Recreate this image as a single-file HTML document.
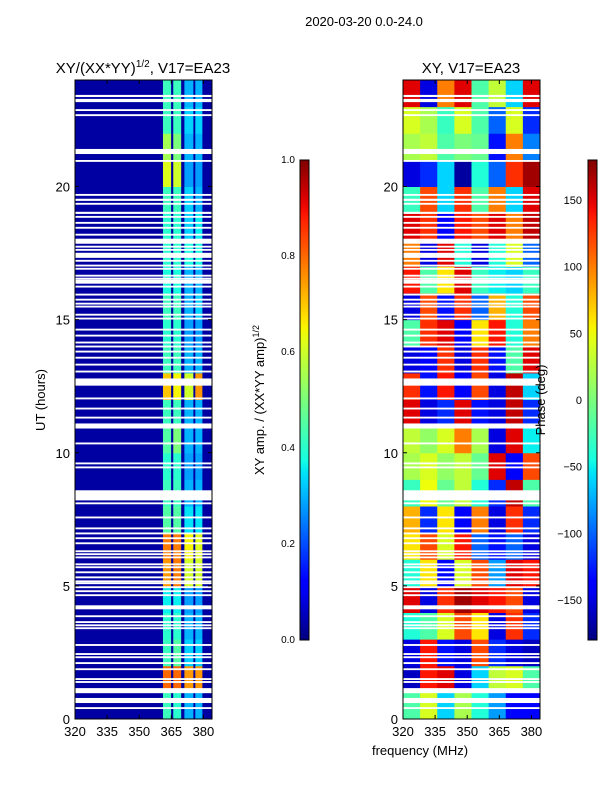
<!DOCTYPE html>
<html><head><meta charset="utf-8"><style>
html,body{margin:0;padding:0;background:#fff;}
svg{display:block;font-family:"Liberation Sans","DejaVu Sans",sans-serif;}
</style></head><body>
<svg id="fig" width="600" height="800" viewBox="0 0 600 800" xmlns="http://www.w3.org/2000/svg">
<defs>
<linearGradient id="jet" x1="0" y1="1" x2="0" y2="0"></linearGradient>
</defs>
<text x="364" y="26" font-size="13" text-anchor="middle">2020-03-20 0.0-24.0</text>
<g id="left"></g>
<g id="right"></g>
<g id="axes"></g>
<text x="143" y="73" font-size="15" text-anchor="middle">XY/(XX*YY)<tspan font-size="10" dy="-6">1/2</tspan><tspan dy="6">, V17=EA23</tspan></text>
<text x="471" y="73" font-size="15" text-anchor="middle">XY, V17=EA23</text>
<text transform="translate(45,400) rotate(-90)" font-size="13" text-anchor="middle">UT (hours)</text>
<text transform="translate(264,400) rotate(-90)" font-size="13" text-anchor="middle">XY amp. / (XX*YY amp)<tspan font-size="9" dy="-5">1/2</tspan></text>
<text transform="translate(545,400) rotate(-90)" font-size="13" text-anchor="middle">Phase (deg)</text>
<text x="420" y="755" font-size="13" text-anchor="middle">frequency (MHz)</text>
<rect x="300" y="160" width="9" height="480" fill="url(#jet)" stroke="#000" stroke-width="1"/>
<rect x="588" y="160" width="9" height="480" fill="url(#jet)" stroke="#000" stroke-width="1"/>
</svg>
<script>
const freqTicks=[320,335,350,365,380];
const hourTicks=[0,5,10,15,20];
const ampTicks=[0.0,0.2,0.4,0.6,0.8,1.0];
const phaseTicks=[-150,-100,-50,0,50,100,150];
const ampBlocks=[[361.1,364.9],[365.9,369.6],[371.1,375.3],[376.2,379.5]];
const ampBackground=0.03;
const ampBlock1=[0.42,0.8,0.42,0.4,0.36,0.75,0.78,0.45,0.42,0.4,0.45,0.42,0.7,0.42,0.4,0.42,0.38,0.4,0.4,0.42,0.62,0.55,0.42,0.42];
const ampBlock2=[0.4,0.8,0.45,0.4,0.36,0.78,0.78,0.45,0.42,0.4,0.5,0.42,0.65,0.42,0.4,0.42,0.38,0.4,0.4,0.42,0.6,0.5,0.42,0.42];
const ampBlock3=[0.3,0.75,0.33,0.3,0.28,0.6,0.65,0.35,0.3,0.28,0.3,0.3,0.6,0.3,0.28,0.3,0.3,0.38,0.33,0.33,0.28,0.3,0.33,0.3];
const ampBlock4=[0.3,0.75,0.33,0.3,0.28,0.6,0.62,0.35,0.3,0.28,0.3,0.3,0.75,0.3,0.28,0.33,0.3,0.38,0.36,0.3,0.28,0.3,0.33,0.3];
const phaseEdges=[320,328,336,344,352,360,368,376,384];
const phaseGrid=[
[-20,40,-60,20,-40,-80,-140,-140],
[-160,140,150,-150,-60,30,40,-20],
[-150,140,-130,-150,120,-120,-150,-160],
[-40,-20,40,120,60,-150,130,-120],
[150,-150,130,170,150,140,120,-150],
[-40,60,-140,40,120,-80,150,140],
[60,120,40,140,-100,-130,-100,-150],
[80,-120,60,-140,100,-150,130,-120],
[-30,50,-10,30,-40,-120,160,-20],
[20,40,10,30,-10,150,-140,120],
[30,10,40,100,20,-150,150,-50],
[150,-150,-120,150,-130,-150,160,-120],
[130,-130,140,-140,120,-150,160,-60],
[-150,-140,130,-150,130,-130,-20,150],
[-20,130,150,-140,60,140,-40,100],
[-150,120,-130,130,-100,80,-40,120],
[140,-20,60,150,-30,-50,-60,-30],
[100,-150,150,-40,-150,-40,40,-100],
[150,130,-140,140,120,150,100,160],
[-30,120,-60,130,-20,100,-60,150],
[-150,-120,-60,-170,-40,-100,130,170],
[20,30,-20,0,-10,-130,100,-90],
[40,20,-30,40,-20,-100,40,-120],
[150,-150,100,150,-20,30,-60,150]];
const flagWide=[[23.36,23.44],[23.17,23.29],[21.22,21.41],[19.65,19.72],[19.46,19.54],[18.97,19.05],[18.6,18.67],[17.85,18.04],[17.32,17.51],[16.35,16.5],[15.15,15.22],[14.59,14.66],[12.52,12.79],[10.91,11.1],[8.21,8.59],[4.12,4.27],[0.97,1.16],[0.6,0.79]];
const flagThin=[22.87,22.68,20.96,19.35,18.86,18.45,18.19,17.74,17.62,17.21,17.03,16.91,16.65,16.54,16.24,15.94,15.75,15.6,15.49,15.04,14.4,14.14,13.99,13.8,13.57,13.31,13.05,12.04,11.66,11.32,10.35,9.6,9.45,8.1,7.57,7.16,6.97,6.79,6.6,6.3,6.19,6.07,5.81,5.7,5.51,5.32,5.17,5.1,4.95,4.8,4.65,3.86,3.64,3.52,3.41,2.78,2.44,2.32,2.1,1.87,1.5,1.39,0.41];

const NS="http://www.w3.org/2000/svg";
const xL=f=>75+(f-320)*137/64;
const xR=f=>403+(f-320)*137/64;
const yS=h=>719-h*639/24;
const ampY=v=>640-v*480;
const phY=p=>640-(p+180)/360*480;
function clamp(v){return Math.max(0,Math.min(1,v));}
function interp(t,pts){for(let i=0;i<pts.length-1;i++){const [a,va]=pts[i],[b,vb]=pts[i+1];if(t<=b)return va+(vb-va)*(t-a)/(b-a);}return pts[pts.length-1][1];}
function jet(t){t=clamp(t);
  const r=interp(t,[[0,0],[0.35,0],[0.66,1],[0.89,1],[1,0.5]]);
  const g=interp(t,[[0,0],[0.125,0],[0.375,1],[0.64,1],[0.91,0],[1,0]]);
  const b=interp(t,[[0,0.5],[0.11,1],[0.34,1],[0.65,0],[1,0]]);
  return `rgb(${Math.round(r*255)},${Math.round(g*255)},${Math.round(b*255)})`;}
function mk(tag,attrs,parent){const e=document.createElementNS(NS,tag);for(const k in attrs)e.setAttribute(k,attrs[k]);parent.appendChild(e);return e;}
const grad=document.getElementById('jet');
for(let i=0;i<=40;i++){mk('stop',{offset:i/40,'stop-color':jet(i/40)},grad);}
const L=document.getElementById('left'),R=document.getElementById('right'),A=document.getElementById('axes');

let bg=mk('rect',{x:xL(320),y:yS(24),width:xL(384)-xL(320),height:yS(0)-yS(24),fill:jet(ampBackground)},L);


const ampCols=[ampBlock1,ampBlock2,ampBlock3,ampBlock4];
ampBlocks.forEach((b,bi)=>{
  for(let h=0;h<24;h++){
    const c=mk('rect',{x:xL(b[0]),y:yS(h+1),width:xL(b[1])-xL(b[0]),height:yS(h)-yS(h+1)+0.5,fill:jet(ampCols[bi][h])},L);
    
    
  }
});
for(let h=0;h<24;h++){
  for(let j=0;j<8;j++){
    const c=mk('rect',{x:xR(phaseEdges[j]),y:yS(h+1),width:xR(phaseEdges[j+1])-xR(phaseEdges[j])+0.5,height:yS(h)-yS(h+1)+0.5,fill:jet((phaseGrid[h][j]+180)/360)},R);
    
    
  }
}
function flag(h0,h1){
  [[xL,L],[xR,R]].forEach(([xf,g])=>{
    const r=mk('rect',{x:xf(320),y:yS(h1),width:xf(384)-xf(320),height:Math.max(1.5,yS(h0)-yS(h1)),fill:'#fff'},g);
    
    
  });
}
flagWide.forEach(w=>flag(w[0],w[1]));
flagThin.forEach(c=>flag(c-0.035,c+0.035));

[[xL,75],[xR,403]].forEach(([xf,x0],pi)=>{
  const fr=mk('rect',{x:x0,y:yS(24),width:137,height:yS(0)-yS(24),fill:'none',stroke:'#000','stroke-width':1},A);
  
  
  freqTicks.forEach(f=>{
    const x=xf(f);
    mk('line',{x1:x,y1:719,x2:x,y2:715,stroke:'#000'},A);
    mk('line',{x1:x,y1:yS(24),x2:x,y2:yS(24)+4,stroke:'#000'},A);
    const t=mk('text',{x:x,y:736,'font-size':13,'text-anchor':'middle'},A);t.textContent=f;
    
    
  });
  hourTicks.forEach(h=>{
    const y=yS(h);
    mk('line',{x1:x0,y1:y,x2:x0+4,y2:y,stroke:'#000'},A);
    mk('line',{x1:x0+137,y1:y,x2:x0+133,y2:y,stroke:'#000'},A);
    const t=mk('text',{x:x0-5,y:y+5,'font-size':13,'text-anchor':'end'},A);t.textContent=h;
    
    
  });
});
ampTicks.forEach(v=>{
  const y=ampY(v);
  mk('line',{x1:300,y1:y,x2:303,y2:y,stroke:'#000'},A);
  mk('line',{x1:309,y1:y,x2:306,y2:y,stroke:'#000'},A);
  const t=mk('text',{x:295,y:y+3,'font-size':10,'text-anchor':'end'},A);t.textContent=v.toFixed(1);
  
  
});
phaseTicks.forEach(v=>{
  const y=phY(v);
  mk('line',{x1:588,y1:y,x2:591,y2:y,stroke:'#000'},A);
  mk('line',{x1:597,y1:y,x2:594,y2:y,stroke:'#000'},A);
  const t=mk('text',{x:582,y:y+4,'font-size':11,'text-anchor':'end'},A);t.textContent=v<0?'\u2212'+(-v):v;
  
  
});
</script>
</body></html>
